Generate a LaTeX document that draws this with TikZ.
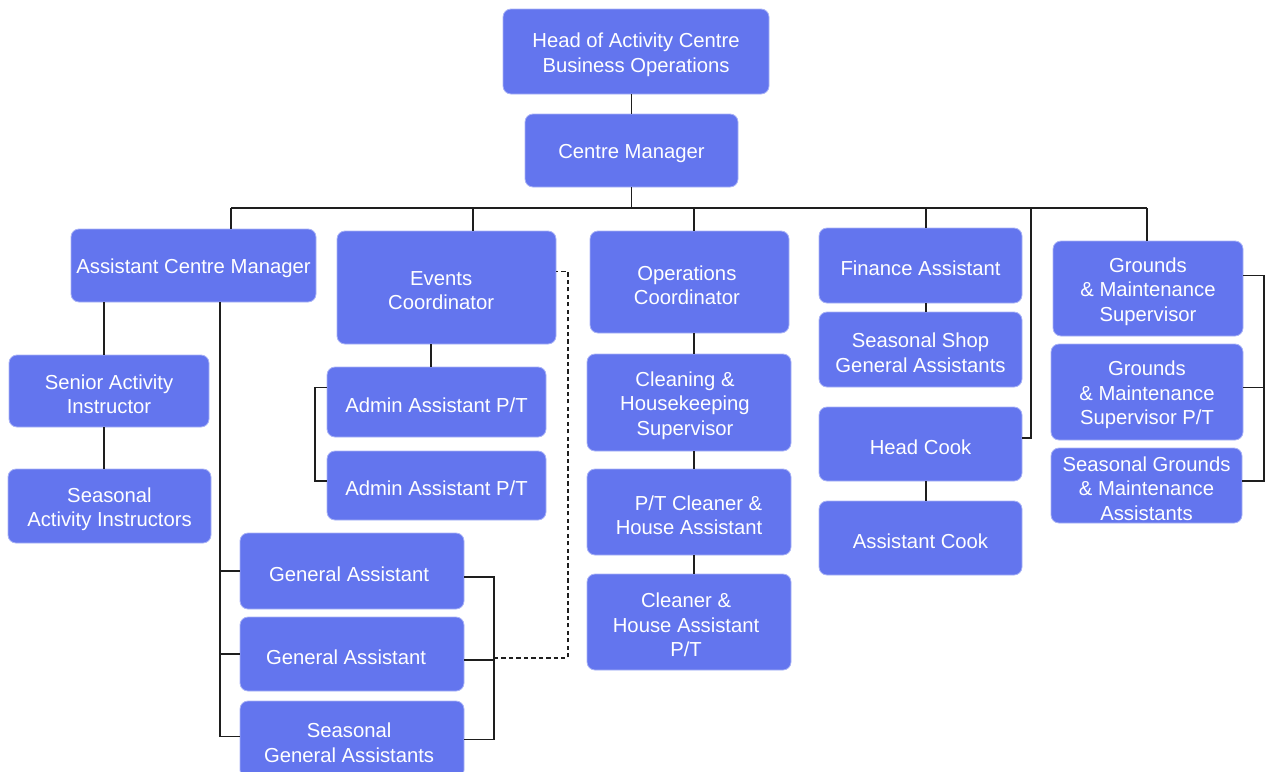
\documentclass[tikz,border=0pt]{standalone}
\usepackage{fontspec}
\setmainfont{Liberation Sans}
\usetikzlibrary{fit}
\definecolor{boxcol}{RGB}{99,117,238}
\definecolor{linecol}{RGB}{30,30,30}
\tikzset{
  orgbox/.style={draw=boxcol!55!white, line width=0.6pt, fill=boxcol, rounded corners=6pt,
    inner sep=0pt},
  orgtext/.style={inner sep=0pt, text=white, align=center, yshift=-2.4pt,
    font=\fontsize{15.2}{18.4}\selectfont},
  conn/.style={draw=linecol, line width=0.85pt},
  dconn/.style={conn, dashed, dash pattern=on 3.2pt off 2.4pt}
}
\newcommand\orgnode[7][]{\node[orgbox, fit={(#3,#4) (#5,#6)}] (#2) {};
  \node[orgtext,#1] (#2-t) at (#2.center) {#7};}
\begin{document}
\begin{tikzpicture}[x=0.75pt, y=-0.75pt]
\useasboundingbox (0,0) rectangle (1269,771);
% boxes
\orgnode{head}{503}{9}{769}{94}{Head of Activity Centre\\Business Operations}
\orgnode{cm}{525}{114}{738}{187}{Centre Manager}
\orgnode{acm}{71}{229}{316}{302}{Assistant Centre Manager}
\orgnode[xshift=-4pt]{ec}{337}{231}{556}{344}{Events\\Coordinator}
\orgnode[xshift=-2pt]{oc}{590}{231}{789}{333}{Operations\\Coordinator}
\orgnode{fa}{819}{228}{1022}{303}{Finance Assistant}
\orgnode{ss}{819}{312}{1022}{387}{Seasonal Shop\\General Assistants}
\orgnode{hc}{819}{407}{1022}{481}{Head Cook}
\orgnode{ac}{819}{501}{1022}{575}{Assistant Cook}
\orgnode{gms}{1053}{241}{1243}{336}{Grounds\\\& Maintenance\\Supervisor}
\orgnode{gmp}{1051}{344}{1243}{440}{Grounds\\\& Maintenance\\Supervisor P/T}
\orgnode{sgm}{1051}{448}{1242}{523}{Seasonal Grounds\\\& Maintenance\\Assistants}
\orgnode{sai}{9}{355}{209}{427}{Senior Activity\\Instructor}
\orgnode{sais}{8}{469}{211}{543}{Seasonal\\Activity Instructors}
\orgnode{aa1}{327}{367}{546}{437}{Admin Assistant P/T}
\orgnode{aa2}{327}{451}{546}{520}{Admin Assistant P/T}
\orgnode[xshift=-2.2pt]{ga1}{240}{533}{464}{609}{General Assistant}
\orgnode[xshift=-4.5pt]{ga2}{240}{617}{464}{691}{General Assistant}
\orgnode[xshift=-2.2pt]{sga}{240}{701}{464}{778}{Seasonal\\General Assistants}
\orgnode[xshift=-3pt]{chs}{587}{354}{791}{451}{Cleaning \&\\Housekeeping\\Supervisor}
\orgnode[align=right]{ptc}{587}{469}{791}{555}{P/T Cleaner \&\\House Assistant}
\orgnode[xshift=-2.2pt]{chp}{587}{574}{791}{670}{Cleaner \&\\House Assistant\\P/T}
% coordinates
\coordinate (busL) at (231,208);
\coordinate (busR) at (1147,208);
\coordinate (d2) at (473,208);
\coordinate (d3) at (694,208);
\coordinate (d4) at (926,208);
\coordinate (d5) at (1031,208);
\coordinate (xa) at (104,0);
\coordinate (xb) at (220,0);
\coordinate (xc) at (494,0);
\coordinate (xd) at (568,0);
\coordinate (xe) at (431,0);
\coordinate (xf) at (694,0);
\coordinate (xg) at (926,0);
\coordinate (xh) at (315,0);
\coordinate (xi) at (1264,0);
\coordinate (hcE) at ([yshift=4.5pt]hc.east);
\coordinate (sgaW) at ([yshift=2.2pt]sga.west);
\coordinate (ga1E) at ([yshift=-4.5pt]ga1.east);
\coordinate (ga2E) at ([yshift=-4.5pt]ga2.east);
\coordinate (ga2D) at ([yshift=-3pt]ga2.east);
\coordinate (ecE) at ([yshift=12pt]ec.east);
\coordinate (aa1W) at ([yshift=11pt]aa1.west);
\coordinate (aa2W) at ([yshift=3.4pt]aa2.west);
\coordinate (gmsE) at ([yshift=10pt]gms.east);
\coordinate (gmpE) at ([yshift=3.4pt]gmp.east);
\coordinate (sgmE) at ([yshift=3.4pt]sgm.east);
% connectors
\draw[conn] (cm.north) -- (cm.north |- head.south);
\draw[conn] (cm.south) -- (cm.south |- busL);
\draw[conn] (busL) -- (busR);
\draw[conn] (busL) -- (busL |- acm.north);
\draw[conn] (d2) -- (d2 |- ec.north);
\draw[conn] (d3) -- (d3 |- oc.north);
\draw[conn] (d4) -- (d4 |- fa.north);
\draw[conn] (busR) -- (busR |- gms.north);
\draw[conn] (d5) |- (hcE);
% assistant centre manager
\draw[conn] (xa |- acm.south) -- (xa |- sai.north);
\draw[conn] (xa |- sai.south) -- (xa |- sais.north);
\draw[conn] (xb |- acm.south) |- (sgaW);
\draw[conn] (xb |- ga1.west) -- (ga1.west);
\draw[conn] (xb |- ga2.west) -- (ga2.west);
\draw[conn] (ga1E) -| (xc |- sga.east) -- (sga.east);
\draw[conn] (ga2E) -- (xc |- ga2E);
\draw[dconn] (xc |- ga2D) -| (xd |- ecE) -- (ecE);
% events
\draw[conn] (xe |- ec.south) -- (xe |- aa1.north);
\draw[conn] (aa1W) -| (xh |- aa2W) -- (aa2W);
% operations
\draw[conn] (xf |- oc.south) -- (xf |- chs.north);
\draw[conn] (xf |- chs.south) -- (xf |- ptc.north);
\draw[conn] (xf |- ptc.south) -- (xf |- chp.north);
% finance
\draw[conn] (xg |- fa.south) -- (xg |- ss.north);
\draw[conn] (xg |- hc.south) -- (xg |- ac.north);
% grounds
\draw[conn] (gmsE) -| (xi |- sgmE) -- (sgmE);
\draw[conn] (gmpE) -- (xi |- gmpE);
\end{tikzpicture}
\end{document}
